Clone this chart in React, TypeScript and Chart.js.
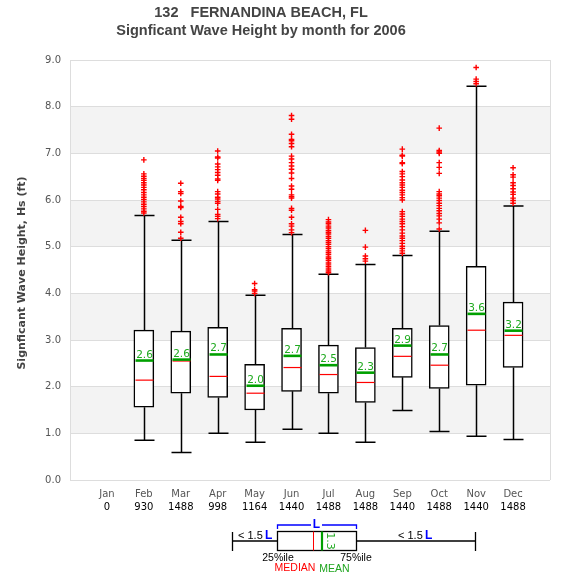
import React, { useEffect, useRef } from 'react';
import { Chart, registerables } from 'chart.js';

Chart.register(...registerables);

const TITLE_1 = '132   FERNANDINA BEACH, FL';
const TITLE_2 = 'Signficant Wave Height by month for 2006';
const Y_TITLE = 'Signficant Wave Height, Hs (ft)';

const MONTHS = ['Jan', 'Feb', 'Mar', 'Apr', 'May', 'Jun', 'Jul', 'Aug', 'Sep', 'Oct', 'Nov', 'Dec'];
const COUNTS = [0, 930, 1488, 998, 1164, 1440, 1488, 1488, 1440, 1488, 1440, 1488];

const Q1 = [null, 1.56, 1.86, 1.77, 1.5, 1.9, 1.86, 1.66, 2.2, 1.96, 2.03, 2.41];
const MEDIAN = [null, 2.14, 2.55, 2.22, 1.86, 2.41, 2.26, 2.09, 2.65, 2.46, 3.21, 3.1];
const Q3 = [null, 3.21, 3.19, 3.27, 2.48, 3.25, 2.89, 2.84, 3.25, 3.31, 4.58, 3.81];
const MEAN = [null, 2.56, 2.58, 2.69, 2.02, 2.66, 2.46, 2.3, 2.88, 2.69, 3.56, 3.2];
const WHISKER_LOW = [null, 0.85, 0.59, 1.0, 0.81, 1.09, 1.0, 0.81, 1.49, 1.04, 0.94, 0.87];
const WHISKER_HIGH = [null, 5.67, 5.14, 5.54, 3.96, 5.26, 4.41, 4.62, 4.81, 5.33, 8.44, 5.87];

const OUT_JAN: number[] = [];
const OUT_FEB = [6.86, 6.56, 6.51, 6.46, 6.42, 6.37, 6.32, 6.27, 6.22, 6.16, 6.11, 6.06, 6.01, 5.96, 5.91, 5.86, 5.81, 5.76, 5.72];
const OUT_MAR = [6.36, 6.18, 6.14, 5.98, 5.86, 5.84, 5.63, 5.54, 5.49, 5.31, 5.18];
const OUT_APR = [7.05, 6.92, 6.9, 6.77, 6.71, 6.65, 6.59, 6.53, 6.45, 6.42, 6.18, 6.13, 6.06, 6.02, 5.97, 5.93, 5.8, 5.69, 5.65, 5.6];
const OUT_MAY = [4.21, 4.08, 4.05, 4.0];
const OUT_JUN = [7.81, 7.73, 7.41, 7.3, 7.27, 7.21, 7.14, 6.94, 6.88, 6.8, 6.73, 6.66, 6.58, 6.46, 6.3, 6.23, 6.11, 6.07, 6.04, 5.82, 5.78, 5.63, 5.49, 5.44, 5.36, 5.3];
const OUT_JUL = [5.58, 5.53, 5.49, 5.44, 5.4, 5.35, 5.31, 5.27, 5.22, 5.18, 5.13, 5.09, 5.05, 5.0, 4.96, 4.91, 4.87, 4.83, 4.78, 4.74, 4.7, 4.65, 4.61, 4.57, 4.52, 4.48, 4.44];
const OUT_AUG = [5.35, 4.99, 4.8, 4.74, 4.69];
const OUT_SEP = [7.09, 6.96, 6.94, 6.8, 6.78, 6.61, 6.56, 6.5, 6.43, 6.37, 6.32, 6.27, 6.21, 6.16, 6.11, 6.05, 6.0, 5.75, 5.7, 5.65, 5.59, 5.54, 5.49, 5.43, 5.36, 5.29, 5.23, 5.18, 5.13, 5.07, 5.01, 4.96, 4.91, 4.86];
const OUT_OCT = [7.54, 7.06, 7.03, 7.0, 6.8, 6.7, 6.57, 6.18, 6.13, 6.09, 6.04, 5.99, 5.93, 5.88, 5.82, 5.77, 5.71, 5.66, 5.59, 5.51, 5.38];
const OUT_NOV = [8.84, 8.59, 8.54, 8.49];
const OUT_DEC = [6.69, 6.54, 6.49, 6.37, 6.31, 6.24, 6.17, 6.12, 6.04, 5.99, 5.93];
const OUTLIERS = [OUT_JAN, OUT_FEB, OUT_MAR, OUT_APR, OUT_MAY, OUT_JUN, OUT_JUL, OUT_AUG, OUT_SEP, OUT_OCT, OUT_NOV, OUT_DEC];

const Y_MIN = 0;
const Y_MAX = 9;
const SHADED_BANDS = [[1, 2], [3, 4], [5, 6], [7, 8]];

const GRID = '#dddddd';
const GREEN_LINE = '#00a000';
const GREEN_TEXT = '#1faa1f';
const BLUE = '#0000ff';

const boxPlugin = {
  id: 'boxExtras',
  beforeDraw(chart: any) {
    const { ctx, chartArea: a, scales } = chart;
    const y = scales.y;
    ctx.save();
    ctx.fillStyle = '#f3f3f3';
    for (const [lo, hi] of SHADED_BANDS) {
      const t = y.getPixelForValue(hi);
      const b = y.getPixelForValue(lo);
      ctx.fillRect(a.left, t, a.right - a.left, b - t);
    }
    ctx.restore();
  },
  beforeDatasetsDraw(chart: any) {
    const { ctx, chartArea: a } = chart;
    ctx.save();
    ctx.strokeStyle = GRID;
    ctx.lineWidth = 1;
    ctx.beginPath();
    ctx.moveTo(a.right + 0.5, a.top);
    ctx.lineTo(a.right + 0.5, a.bottom);
    ctx.stroke();
    ctx.restore();
  },
  afterDatasetDraw(chart: any, args: any) {
    if (args.meta.type !== 'bar') return;
    const { ctx, scales } = chart;
    const y = scales.y;
    ctx.save();
    args.meta.data.forEach((el: any, j: number) => {
      const i = chart.data.datasets[args.index].data[j].i;
      const cx = Math.round(el.x) + 0.5;
      const half = el.width / 2;
      const pLow = y.getPixelForValue(WHISKER_LOW[i]);
      const pHigh = y.getPixelForValue(WHISKER_HIGH[i]);
      const pQ1 = y.getPixelForValue(Q1[i]);
      const pQ3 = y.getPixelForValue(Q3[i]);
      ctx.strokeStyle = '#000';
      ctx.lineWidth = 1.5;
      ctx.beginPath();
      ctx.moveTo(cx, pQ3);
      ctx.lineTo(cx, pHigh);
      ctx.moveTo(cx - half, pHigh);
      ctx.lineTo(cx + half, pHigh);
      ctx.moveTo(cx, pQ1);
      ctx.lineTo(cx, pLow);
      ctx.moveTo(cx - half, pLow);
      ctx.lineTo(cx + half, pLow);
      ctx.stroke();
      // median
      const pMed = y.getPixelForValue(MEDIAN[i]);
      ctx.strokeStyle = '#ff0000';
      ctx.lineWidth = 1.2;
      ctx.beginPath();
      ctx.moveTo(cx - half + 1, pMed);
      ctx.lineTo(cx + half - 1, pMed);
      ctx.stroke();
      // mean
      const pMean = y.getPixelForValue(MEAN[i]);
      ctx.strokeStyle = GREEN_LINE;
      ctx.lineWidth = 2.6;
      ctx.beginPath();
      ctx.moveTo(cx - half + 1, pMean);
      ctx.lineTo(cx + half - 1, pMean);
      ctx.stroke();
      ctx.fillStyle = GREEN_TEXT;
      ctx.font = '10.5px "DejaVu Sans"';
      ctx.textAlign = 'center';
      ctx.textBaseline = 'alphabetic';
      ctx.fillText((MEAN[i] as number).toFixed(1), cx, pMean - 3);
    });
    ctx.restore();
  },
  afterDraw(chart: any) {
    const { ctx } = chart;
    ctx.save();
    // titles
    ctx.fillStyle = '#444444';
    ctx.textAlign = 'center';
    ctx.textBaseline = 'alphabetic';
    ctx.font = 'bold 14.5px "Liberation Sans", Arial, sans-serif';
    ctx.fillText(TITLE_1, 261, 17);
    ctx.fillText(TITLE_2, 261, 35);
    // y title
    ctx.save();
    ctx.translate(22, 273);
    ctx.rotate(-Math.PI / 2);
    ctx.font = 'bold 11px "DejaVu Sans"';
    ctx.textBaseline = 'middle';
    ctx.fillText(Y_TITLE, 0, 0);
    ctx.restore();

    // legend diagram
    const cy = 541;
    const bx0 = 277.5, bx1 = 356.5, by0 = 531.5, by1 = 550.5;
    ctx.strokeStyle = '#000';
    ctx.lineWidth = 1.3;
    ctx.beginPath();
    ctx.moveTo(232.5, 532); ctx.lineTo(232.5, 551);
    ctx.moveTo(232.5, cy); ctx.lineTo(bx0, cy);
    ctx.moveTo(bx1, cy); ctx.lineTo(475.5, cy);
    ctx.moveTo(475.5, 532); ctx.lineTo(475.5, 551);
    ctx.stroke();
    ctx.strokeRect(bx0, by0, bx1 - bx0, by1 - by0);
    ctx.strokeStyle = '#ff0000';
    ctx.lineWidth = 1;
    ctx.beginPath();
    ctx.moveTo(313.5, by0); ctx.lineTo(313.5, by1);
    ctx.stroke();
    ctx.strokeStyle = GREEN_LINE;
    ctx.lineWidth = 2.2;
    ctx.beginPath();
    ctx.moveTo(322, by0); ctx.lineTo(322, by1);
    ctx.stroke();
    ctx.save();
    ctx.translate(330, 541);
    ctx.rotate(Math.PI / 2);
    ctx.fillStyle = GREEN_TEXT;
    ctx.font = '11px "DejaVu Sans"';
    ctx.textAlign = 'center';
    ctx.textBaseline = 'middle';
    ctx.fillText('1.3', 0, 0);
    ctx.restore();
    // blue bracket
    ctx.strokeStyle = BLUE;
    ctx.lineWidth = 1.3;
    ctx.beginPath();
    ctx.moveTo(bx0, 529); ctx.lineTo(bx0, 525); ctx.lineTo(311, 525);
    ctx.moveTo(322, 525); ctx.lineTo(bx1, 525); ctx.lineTo(bx1, 529);
    ctx.stroke();
    ctx.fillStyle = BLUE;
    ctx.font = 'bold 12px "Liberation Sans", Arial, sans-serif';
    ctx.textAlign = 'center';
    ctx.textBaseline = 'middle';
    ctx.fillText('L', 316.5, 524.5);
    // < 1.5 L labels
    ctx.textAlign = 'left';
    ctx.fillStyle = '#000';
    ctx.font = '11px "Liberation Sans", Arial, sans-serif';
    ctx.fillText('< 1.5', 238, 536);
    ctx.fillText('< 1.5', 398, 536);
    ctx.fillStyle = BLUE;
    ctx.font = 'bold 12px "Liberation Sans", Arial, sans-serif';
    ctx.fillText('L', 265, 536);
    ctx.fillText('L', 425, 536);
    // percentile labels
    ctx.textAlign = 'center';
    ctx.fillStyle = '#000';
    ctx.font = '10.5px "Liberation Sans", Arial, sans-serif';
    ctx.fillText('25%ile', 278, 558);
    ctx.fillText('75%ile', 356, 558);
    ctx.fillStyle = '#ff0000';
    ctx.fillText('MEDIAN', 295, 568.5);
    ctx.fillStyle = '#1fa51f';
    ctx.fillText('MEAN', 334.5, 569.5);
    ctx.restore();
  },
};

export default function App() {
  const canvasRef = useRef<HTMLCanvasElement | null>(null);

  useEffect(() => {
    const canvas = canvasRef.current;
    if (!canvas) return;

    const boxData: any[] = [];
    const outlierData: any[] = [];
    MONTHS.forEach((_, i) => {
      if (Q1[i] != null && Q3[i] != null) {
        boxData.push({ x: i + 1, y: [Q1[i], Q3[i]], i });
      }
      OUTLIERS[i].forEach((v) => outlierData.push({ x: i + 1, y: v }));
    });

    const chart = new Chart(canvas, {
      type: 'bar',
      data: {
        datasets: [
          {
            type: 'bar',
            label: 'IQR',
            data: boxData,
            backgroundColor: '#ffffff',
            borderColor: '#000000',
            borderWidth: 1.5,
            borderSkipped: false,
            barThickness: 20,
            order: 2,
          } as any,
          {
            type: 'scatter',
            label: 'Outliers',
            data: outlierData,
            pointStyle: 'cross',
            radius: 2.8,
            borderColor: '#ff0000',
            borderWidth: 1.4,
            order: 1,
          } as any,
        ],
      },
      options: {
        responsive: false,
        animation: false,
        devicePixelRatio: 1,
        layout: { padding: { top: 60, left: 0, right: 25, bottom: 66 } },
        plugins: {
          legend: { display: false },
          title: { display: false },
          tooltip: { enabled: false },
        },
        scales: {
          x: {
            type: 'linear',
            position: 'bottom',
            min: 0,
            max: 13,
            offset: false,
            weight: 0,
            grid: { display: false, offset: false, drawTicks: false },
            border: { display: false },
            afterBuildTicks: (scale: any) => {
              scale.ticks = MONTHS.map((_, i) => ({ value: i + 1 }));
            },
            afterFit: (scale: any) => {
              scale.height = 20;
            },
            ticks: {
              autoSkip: false,
              maxRotation: 0,
              padding: 8,
              color: '#555555',
              font: { family: 'DejaVu Sans', size: 10 },
              callback: (v: any) => MONTHS[Number(v) - 1] ?? '',
            },
          },
          x2: {
            type: 'linear',
            position: 'bottom',
            min: 0,
            max: 13,
            offset: false,
            weight: 1,
            grid: { display: false, drawTicks: false },
            border: { display: false },
            afterBuildTicks: (scale: any) => {
              scale.ticks = COUNTS.map((_, i) => ({ value: i + 1 }));
            },
            afterFit: (scale: any) => {
              scale.height = 14;
            },
            ticks: {
              autoSkip: false,
              maxRotation: 0,
              padding: 1,
              color: '#000000',
              font: { family: 'DejaVu Sans', size: 10 },
              callback: (v: any) => String(COUNTS[Number(v) - 1] ?? ''),
            },
          },
          y: {
            type: 'linear',
            min: Y_MIN,
            max: Y_MAX,
            beginAtZero: true,
            grid: { color: GRID, lineWidth: 1, drawTicks: false },
            border: { display: true, color: GRID, width: 1 },
            afterFit: (scale: any) => {
              scale.width = 70;
            },
            ticks: {
              stepSize: 1,
              padding: 9,
              color: '#555555',
              font: { family: 'DejaVu Sans', size: 10 },
              callback: (v: any) => Number(v).toFixed(1),
            },
          },
        },
      } as any,
      plugins: [boxPlugin],
    });

    return () => chart.destroy();
  }, []);

  return (
    <div style={{ position: 'absolute', left: 0, top: 0, width: 575, height: 580, background: '#ffffff' }}>
      <canvas ref={canvasRef} width={575} height={580} style={{ display: 'block', width: 575, height: 580 }} />
    </div>
  );
}
